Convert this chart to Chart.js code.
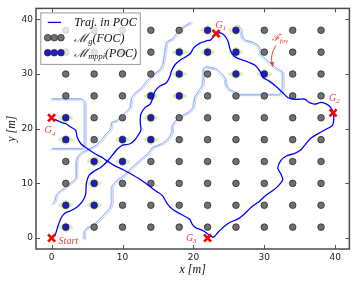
<!DOCTYPE html>
<html>
<head>
<meta charset="utf-8">
<script src="https://cdn.jsdelivr.net/npm/chart.js@4.4.1/dist/chart.umd.min.js"></script>
<style>
  html, body { margin: 0; padding: 0; background: #fff; }
</style>
</head>
<body>
<canvas id="plot" width="357" height="283"></canvas>
<script>
// sampled grid (M_g)
const gridX = [2, 6, 10, 14, 18, 22, 26, 30, 34, 38];
const gridY = [2, 6, 10, 14, 18, 22, 26, 30, 34, 38];

// grid points inside the field of coverage (M_mppi)
const mppiX = [2, 2, 6, 6, 6, 10, 2, 10, 14, 14, 2, 14, 18, 18, 18, 22, 22, 26, 26, 26, 30];
const mppiY = [2, 6, 6, 10, 14, 14, 18, 18, 18, 22, 22, 26, 26, 30, 34, 34, 38, 38, 34, 30, 30];

// trajectory Start -> G1 -> G2 -> G3 -> G4
const trajX = [0, 0.5, 0.9, 1.4, 1.9, 2.7, 3.5, 4.3, 4.8, 4.9, 5.3, 6.1, 7.0, 7.9, 8.6, 9.3, 10.0, 11.0, 11.7, 12.2,
  12.6, 12.5, 12.6, 13.2, 13.9, 14.3, 14.6, 15.3, 16.2, 16.7, 16.9, 17.4, 18.2, 19.0, 19.6, 20.0, 20.5, 21.0, 21.5, 21.9,
  22.4, 22.8, 23.2,
  23.9, 24.5, 24.9, 25.2, 25.7, 26.6, 27.7, 28.7, 29.4, 29.8, 30.7, 31.6, 32.5, 33.3, 34.0, 35.0, 35.7, 36.3, 37.1, 38.0,
  38.8, 39.4, 39.7,
  39.8, 39.6, 38.7, 37.6, 36.6, 35.9, 35.2, 34.3, 33.1, 32.3, 31.9, 32.3, 32.6, 32.0, 31.3, 30.2, 29.2, 28.5, 27.8, 27.2,
  26.3, 25.2, 24.5, 23.5, 22.8,
  22.1, 21.3, 20.3, 19.8, 19.5, 18.9, 17.9, 17.0, 16.3, 15.6, 14.7, 13.7, 12.4, 11.1, 10.1, 9.1, 8.3, 7.6, 6.9, 6.0,
  5.0, 4.1, 3.6, 3.4, 2.7, 2.0, 1.3, 0.6, 0];
const trajY = [0, 0.6, 2.2, 3.8, 4.6, 5.0, 5.6, 6.6, 8.0, 10.0, 11.5, 12.3, 13.0, 14.1, 15.2, 16.3, 17.0, 17.2, 17.9, 18.8,
  19.8, 21.2, 22.7, 23.9, 24.5, 25.7, 26.9, 27.8, 28.4, 29.6, 30.5, 31.7, 32.6, 33.2, 33.8, 34.7, 35.3, 35.7, 35.9, 36.1,
  36.2, 36.8, 37.4,
  37.5, 36.9, 35.9, 34.4, 33.3, 32.7, 32.2, 31.6, 30.5, 29.4, 28.7, 27.8, 26.7, 25.7, 25.4, 25.4, 25.4, 24.8, 24.5, 24.8,
  24.5, 23.8, 22.9,
  21.9, 20.6, 19.9, 19.1, 18.3, 17.3, 16.2, 15.5, 15.0, 14.1, 12.8, 11.8, 10.7, 9.6, 8.8, 7.8, 6.6, 6.0, 5.2, 4.4,
  3.5, 2.9, 2.3, 1.1, 0.15,
  0.7, 1.4, 1.9, 2.6, 3.4, 3.9, 4.6, 5.3, 6.3, 7.8, 8.6, 9.6, 10.8, 11.8, 12.5, 13.1, 13.7, 14.3, 14.9, 15.5,
  16.4, 17.3, 18.5, 19.7, 20.3, 20.9, 21.2, 21.6, 22];

// goals
const goalNames = ['Start', 'G1', 'G2', 'G3', 'G4'];
const goalX = [0, 23.2, 39.7, 22, 0];
const goalY = [0, 37.4, 22.9, 0, 22];

// FOC boundary outlines
const fovAX = [4.6, 4.6, 5.0, 5.6, 6.4, 7.3, 8.2, 8.5, 8.5, 9.1, 10.3, 11.4, 12.5, 13.7, 14.2, 15.6, 16.5, 17.0, 17.0,
  17.5, 18.5, 19.5, 20.0, 20.2, 20.8, 21.3, 21.4, 21.4, 21.8, 23.2, 24.0, 24.5, 24.6, 25.0, 25.8, 26.3, 32.2, 32.6, 32.6,
  31.8, 30.8, 30.2, 29.4, 29.4, 29.0, 28.3, 27.3, 26.9, 26.8, 26.6, 26.2];
const fovAY = [-0.2, 1.2, 1.9, 2.2, 3.0, 4.2, 5.4, 6.5, 9.5, 10.4, 11.6, 13.0, 14.3, 15.6, 16.6, 17.3, 18.2, 19.4, 20.6,
  21.5, 22.5, 23.2, 24.0, 25.8, 27.0, 28.0, 29.5, 31.0, 31.4, 31.0, 30.0, 29.2, 28.0, 27.2, 26.8, 26.3, 26.3, 27.2, 30.4,
  31.0, 32.0, 32.7, 33.6, 34.6, 35.4, 35.9, 36.2, 36.6, 37.3, 38.4, 39.0];
const fovBX = [0.1, 0.5, 0.7, 1.2, 2.1, 3.0, 3.5, 3.5, 3.7, 4.4, 5.4, 6.3, 7.0, 7.7, 8.3, 8.5, 9.2, 10.2, 11.1, 11.3,
  11.8, 12.7, 13.4, 14.3, 15.3, 15.7, 16.0, 16.2, 17.1, 17.8, 18.5, 19.7];
const fovBY = [6.2, 6.8, 8.0, 8.6, 9.5, 10.4, 11.0, 14.0, 15.0, 15.8, 16.4, 17.0, 17.9, 19.1, 19.8, 21.2, 21.5, 22.7, 23.9, 25.7,
  26.6, 27.5, 28.7, 29.9, 30.8, 31.7, 34.1, 35.9, 36.5, 37.7, 38.6, 39.5];
const fovCX = [0.0, 4.3, 4.7, 4.7, 4.2, 0.0];
const fovCY = [16.4, 16.4, 16.9, 24.9, 25.5, 25.5];

// F_fov annotation arrow (from, to)
const arrowX = [31.6, 31.1];
const arrowY = [35.2, 31.4];

const xTicks = [0, 10, 20, 30, 40];
const yTicks = [0, 10, 20, 30, 40];
const legendLabels = ['Traj. in POC', '\u2133_{g}(FOC)', '\u2133_{mppi}(POC)'];

const toXY = (xs, ys) => xs.map((x, i) => ({x: x, y: ys[i]}));
const gridPts = [];
gridY.forEach(y => gridX.forEach(x => gridPts.push({x: x, y: y})));

const RED = '#ff0000';
const LABEL_RED = '#f03a3a';
const SERIF = '"Liberation Serif", "DejaVu Serif", serif';

function diamondImage() {
  const c = document.createElement('canvas');
  c.width = 15; c.height = 10;
  const g = c.getContext('2d');
  g.beginPath();
  g.moveTo(7.5, 0.5); g.lineTo(14.5, 5); g.lineTo(7.5, 9.5); g.lineTo(0.5, 5); g.closePath();
  g.fillStyle = '#e9f8c6'; g.fill();
  g.strokeStyle = '#b9e996'; g.lineWidth = 1; g.stroke();
  return c;
}

const fovLayers = [
  {color: 'rgba(140,160,240,0.85)', shift: [0, 0]},
  {color: 'rgba(195,195,245,0.9)', shift: [1.4, 1]},
  {color: 'rgba(170,220,250,0.9)', shift: [-1, 1.4]}
];
const fovSets = [];
[[fovAX, fovAY], [fovBX, fovBY], [fovCX, fovCY]].forEach(([xs, ys]) => {
  fovLayers.forEach(l => fovSets.push({
    data: toXY(xs, ys), showLine: true, pointRadius: 0, borderColor: l.color,
    borderWidth: 1, shift: l.shift, order: 6
  }));
});

// draw text with _{sub} parts
function drawRich(ctx, text, x, y, size, color) {
  const parts = text.split(/_\{([^}]*)\}/);
  let cx = x;
  parts.forEach((t, i) => {
    if (!t) return;
    const sub = i % 2 === 1;
    const fs = sub ? size * 0.7 : size;
    ctx.font = 'italic ' + fs + 'px ' + SERIF;
    ctx.fillStyle = color;
    ctx.fillText(t, cx, sub ? y + size * 0.22 : y);
    cx += ctx.measureText(t).width;
  });
}

function dot(ctx, x, y, fill, edge) {
  ctx.beginPath();
  ctx.arc(x, y, 3.3, 0, Math.PI * 2);
  ctx.fillStyle = fill; ctx.fill();
  ctx.lineWidth = 0.8; ctx.strokeStyle = edge; ctx.stroke();
}

const shiftPlugin = {
  id: 'shift',
  beforeDatasetDraw(chart, args) {
    const ds = chart.data.datasets[args.index];
    if (ds.shift) { chart.ctx.save(); chart.ctx.translate(ds.shift[0], ds.shift[1]); }
  },
  afterDatasetDraw(chart, args) {
    if (chart.data.datasets[args.index].shift) chart.ctx.restore();
  }
};

const decorPlugin = {
  id: 'decor',
  afterDatasetsDraw(chart) {
    const ctx = chart.ctx, ca = chart.chartArea;
    const sx = chart.scales.x, sy = chart.scales.y;
    ctx.save();

    // goal labels
    const labelOffset = [[7, 6], [-0.5, -5.7], [-4, -11.7], [-21.7, 2.7], [-7, 15.7]];
    goalNames.forEach((n, i) => {
      const m = n.match(/^([A-Za-z]+?)(\d*)$/);
      const txt = m[2] ? m[1] + '_{' + m[2] + '}' : m[1];
      drawRich(ctx, txt, sx.getPixelForValue(goalX[i]) + labelOffset[i][0],
        sy.getPixelForValue(goalY[i]) + labelOffset[i][1], 10, LABEL_RED);
    });

    // F_fov annotation
    const ax0 = sx.getPixelForValue(arrowX[0]), ay0 = sy.getPixelForValue(arrowY[0]);
    const ax1 = sx.getPixelForValue(arrowX[1]), ay1 = sy.getPixelForValue(arrowY[1]);
    drawRich(ctx, '\u2131_{fov}', ax0 - 4, ay0 - 5, 10, LABEL_RED);
    const cx = (ax0 + ax1) / 2 - 4, cy = (ay0 + ay1) / 2;
    ctx.beginPath();
    ctx.moveTo(ax0, ay0);
    ctx.quadraticCurveTo(cx, cy, ax1, ay1 - 3);
    ctx.strokeStyle = LABEL_RED; ctx.lineWidth = 1; ctx.stroke();
    ctx.beginPath();
    ctx.moveTo(ax1 + 0.5, ay1 + 1);
    ctx.lineTo(ax1 - 2.2, ay1 - 4.5);
    ctx.lineTo(ax1 + 2.0, ay1 - 4.2);
    ctx.closePath();
    ctx.fillStyle = LABEL_RED; ctx.fill();

    // legend
    const lx = ca.left + 4.8, ly = ca.top + 4.5;
    ctx.fillStyle = 'rgba(255,255,255,0.8)';
    ctx.fillRect(lx, ly, 99.5, 51.5);
    ctx.strokeStyle = '#9a9a9a'; ctx.lineWidth = 1;
    ctx.strokeRect(lx, ly, 99.5, 51.5);
    const rows = [ca.top + 14, ca.top + 29.3, ca.top + 44.3];
    const mx = [ca.left + 11.7, ca.left + 18.3, ca.left + 25];
    ctx.beginPath();
    ctx.moveTo(mx[0], rows[0]); ctx.lineTo(mx[2], rows[0]);
    ctx.strokeStyle = '#0000ff'; ctx.lineWidth = 1.3; ctx.stroke();
    mx.forEach(x => dot(ctx, x, rows[1], '#6f6f6f', '#2e2e2e'));
    mx.forEach(x => dot(ctx, x, rows[2], '#1c1cc8', '#3a1838'));
    legendLabels.forEach((t, i) => drawRich(ctx, t, ca.left + 38.3, rows[i] + 4, 12, '#111'));

    // frame and inward ticks
    ctx.strokeStyle = '#555'; ctx.lineWidth = 1;
    xTicks.forEach(v => {
      const x = Math.round(sx.getPixelForValue(v)) + 0.5;
      ctx.beginPath();
      ctx.moveTo(x, ca.bottom); ctx.lineTo(x, ca.bottom - 4);
      ctx.moveTo(x, ca.top); ctx.lineTo(x, ca.top + 4);
      ctx.stroke();
    });
    yTicks.forEach(v => {
      const y = Math.round(sy.getPixelForValue(v)) + 0.5;
      ctx.beginPath();
      ctx.moveTo(ca.left, y); ctx.lineTo(ca.left + 4, y);
      ctx.moveTo(ca.right, y); ctx.lineTo(ca.right - 4, y);
      ctx.stroke();
    });
    ctx.lineWidth = 1.5; ctx.strokeStyle = '#4a4a4a';
    ctx.strokeRect(ca.left, ca.top, ca.right - ca.left, ca.bottom - ca.top);
    ctx.restore();
  }
};

new Chart(document.getElementById('plot'), {
  type: 'scatter',
  data: {
    datasets: [
      {data: toXY(goalX, goalY), pointStyle: 'crossRot', pointRadius: 5, borderColor: RED,
        borderWidth: 2.6, order: 0},
      {data: toXY(trajX, trajY), showLine: true, pointRadius: 0, borderColor: '#0000ff',
        borderWidth: 1.3, tension: 0.3, order: 1},
      {data: toXY(mppiX, mppiY), pointRadius: 3.3, backgroundColor: '#1c1cc8', borderColor: '#3a1838',
        borderWidth: 0.8, order: 2},
      {data: toXY(mppiX, mppiY), pointStyle: diamondImage(), pointRadius: 5, order: 3},
      {data: gridPts, pointRadius: 3.3, backgroundColor: '#6f6f6f', borderColor: '#2e2e2e',
        borderWidth: 0.8, order: 4},
      ...fovSets
    ]
  },
  options: {
    responsive: false,
    animation: false,
    devicePixelRatio: 1,
    layout: {padding: {top: 5, right: 5, left: 0, bottom: 0}},
    plugins: {legend: {display: false}, tooltip: {enabled: false}},
    scales: {
      x: {
        min: -2.2, max: 42,
        afterFit: s => { s.height = 34; },
        afterBuildTicks: s => { s.ticks = xTicks.map(v => ({value: v})); },
        grid: {display: false, drawTicks: false},
        border: {display: false},
        ticks: {padding: 3, color: '#222', font: {family: 'DejaVu Sans', size: 9}, maxRotation: 0},
        title: {display: true, text: 'x [m]', color: '#111', padding: {top: 0, bottom: 6},
          font: {family: SERIF, size: 12, style: 'italic'}}
      },
      y: {
        min: -2, max: 42,
        afterFit: s => { s.width = 36; },
        afterBuildTicks: s => { s.ticks = yTicks.map(v => ({value: v})); },
        grid: {display: false, drawTicks: false},
        border: {display: false},
        ticks: {padding: 3, color: '#222', font: {family: 'DejaVu Sans', size: 9}},
        title: {display: true, text: 'y [m]', color: '#111', padding: {top: 4.5, bottom: 0},
          font: {family: SERIF, size: 12, style: 'italic'}}
      }
    }
  },
  plugins: [shiftPlugin, decorPlugin]
});
</script>
</body>
</html>
